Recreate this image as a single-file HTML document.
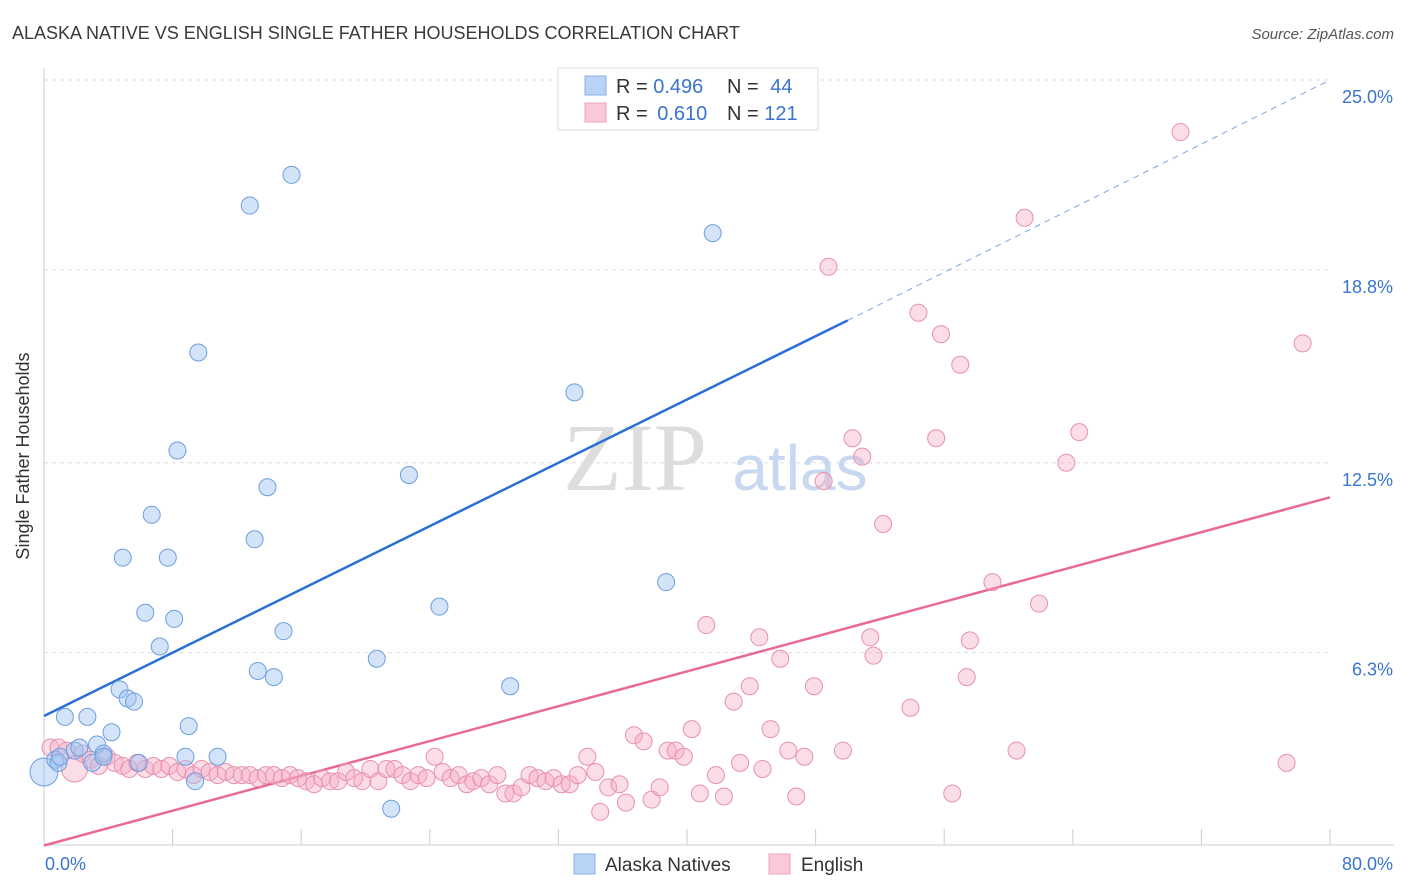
<!DOCTYPE html>
<html><head><meta charset="utf-8"><style>
body{margin:0;background:#fff;font-family:"Liberation Sans",sans-serif;}
svg{display:block}
</style></head><body>
<svg id="chart" width="1406" height="892">
<text x="12" y="39" font-size="18" fill="#3a3a3a">ALASKA NATIVE VS ENGLISH SINGLE FATHER HOUSEHOLDS CORRELATION CHART</text>
<text x="1394" y="39" font-size="15" fill="#555" font-style="italic" text-anchor="end">Source: ZipAtlas.com</text>
<text x="29" y="456" font-size="18" fill="#333" text-anchor="middle" transform="rotate(-90 29 456)">Single Father Households</text>
<g id="grid"></g>
<text x="635" y="490" font-size="96" fill="#ddd" font-family="Liberation Serif,serif" text-anchor="middle">ZIP</text>
<text x="800" y="490" font-size="64" fill="#c8d8f0" text-anchor="middle">atlas</text>
<g id="lines"></g>
<g id="points"></g>
<g>
<rect x="558" y="68" width="260" height="62" fill="#fff" stroke="#ddd"/>
<rect x="585" y="76" width="21" height="19" fill="#b8d3f5" stroke="#88aee6"/>
<rect x="585" y="103" width="21" height="19" fill="#f9c9d7" stroke="#eea4bc"/>
<text x="616" y="93" font-size="20" fill="#333">R = <tspan fill="#3a74d0">0.496</tspan></text>
<text x="727" y="93" font-size="20" fill="#333">N = <tspan fill="#3a74d0" dx="6">44</tspan></text>
<text x="616" y="120" font-size="20" fill="#333">R = <tspan fill="#3a74d0" dx="4">0.610</tspan></text>
<text x="727" y="120" font-size="20" fill="#333">N = <tspan fill="#3a74d0">121</tspan></text>
</g>
<g>
<rect x="574" y="854" width="21" height="20" fill="#b8d3f5" stroke="#88aee6"/>
<text x="605" y="871" font-size="19" fill="#333">Alaska Natives</text>
<rect x="769" y="854" width="21" height="20" fill="#f9c9d7" stroke="#eea4bc"/>
<text x="801" y="871" font-size="19" fill="#333">English</text>
</g>
</svg>
<script>
const yTicks=[25.0,18.8,12.5,6.3];
const yTickLabels=["25.0%","18.8%","12.5%","6.3%"];
const xTickLabels=["0.0%","80.0%"];
const blueX=[0,0.7,0.9,1.0,1.3,1.9,2.2,2.7,3.0,3.3,3.7,3.7,4.2,4.7,4.9,5.2,5.6,5.9,6.3,6.7,7.2,7.7,8.1,8.3,9.0,8.8,9.4,9.6,10.8,12.8,13.3,13.1,13.9,14.3,14.9,15.4,20.7,21.6,22.7,24.6,29.0,33.0,38.7,41.6];
const blueY=[2.4,2.8,2.7,2.9,4.2,3.1,3.2,4.2,2.7,3.3,3.0,2.9,3.7,5.1,9.4,4.8,4.7,2.7,7.6,10.8,6.5,9.4,7.4,12.9,3.9,2.9,2.1,16.1,2.9,20.9,5.7,10.0,11.7,5.5,7.0,21.9,6.1,1.2,12.1,7.8,5.2,14.8,8.6,20.0];
const pinkX=[0.4,0.9,1.4,1.9,2.4,2.9,3.4,3.9,4.4,4.9,5.3,5.8,6.3,6.8,7.3,7.8,8.3,8.8,9.3,9.8,10.3,10.8,11.3,11.8,12.3,12.8,13.3,13.8,14.3,14.8,15.3,15.8,16.3,16.8,17.3,17.8,18.3,18.8,19.3,19.8,20.3,20.8,21.3,21.8,22.3,22.8,23.3,23.8,24.3,24.8,25.3,25.8,26.3,26.7,27.2,27.7,28.2,28.7,29.2,29.7,30.2,30.7,31.2,31.7,32.2,32.7,33.2,33.8,34.3,34.6,35.1,35.8,36.2,36.7,37.3,37.8,38.3,38.8,39.3,39.8,40.3,40.8,41.2,41.8,42.3,42.9,43.3,43.9,44.5,44.7,45.2,45.8,46.3,46.8,47.3,47.9,48.5,48.8,49.7,50.3,50.9,51.4,51.6,52.2,53.9,54.4,55.5,55.8,56.5,57.0,57.4,57.6,59.0,60.5,61.0,61.9,63.6,64.4,70.7,77.3,78.3];
const pinkY=[3.2,3.2,3.1,2.5,3.0,2.8,2.6,2.9,2.7,2.6,2.5,2.7,2.5,2.6,2.5,2.6,2.4,2.5,2.3,2.5,2.4,2.3,2.4,2.3,2.3,2.3,2.2,2.3,2.3,2.2,2.3,2.2,2.1,2.0,2.2,2.1,2.1,2.4,2.2,2.1,2.5,2.1,2.5,2.5,2.3,2.1,2.3,2.2,2.9,2.4,2.2,2.3,2.0,2.1,2.2,2.0,2.3,1.7,1.7,1.9,2.3,2.2,2.1,2.2,2.0,2.0,2.3,2.9,2.4,1.1,1.9,2.0,1.4,3.6,3.4,1.5,1.9,3.1,3.1,2.9,3.8,1.7,7.2,2.3,1.6,4.7,2.7,5.2,6.8,2.5,3.8,6.1,3.1,1.6,2.9,5.2,11.9,18.9,3.1,13.3,12.7,6.8,6.2,10.5,4.5,17.4,13.3,16.7,1.7,15.7,5.5,6.7,8.6,3.1,20.5,7.9,12.5,13.5,23.3,2.7,16.4];
const blueLine=[4.23,17.15,25.0]; // y at x=0, x=50, dashed end x=80
const pinkLine=[0,11.37];
const X0=44,X1=1330,Y0=845.5,Y25=80;
const sx=v=>X0+(X1-X0)*v/80;
const sy=v=>Y0-(Y0-Y25)*v/25;
const NS="http://www.w3.org/2000/svg";
function mk(tag,attrs,parent){const e=document.createElementNS(NS,tag);for(const k in attrs)e.setAttribute(k,attrs[k]);parent.appendChild(e);return e;}
const grid=document.getElementById('grid');
yTicks.forEach((t,i)=>{
 const g=mk('line',{x1:X0,x2:X1,y1:sy(t),y2:sy(t),stroke:'#ddd','stroke-dasharray':'4,4'},grid);
 
 
 const l=mk('text',{x:1393,y:sy(t)+23,'font-size':18,fill:'#3a74d0','text-anchor':'end'},grid);
 l.textContent=yTickLabels[i];
 
 
});
const ax=mk('line',{x1:X0,x2:X0,y1:68,y2:845,stroke:'#ccc'},grid);


const bx=mk('line',{x1:X0,x2:X1+64,y1:845,y2:845,stroke:'#ccc'},grid);


for(let i=0;i<=10;i++){
 const t=mk('line',{x1:sx(i*8),x2:sx(i*8),y1:829,y2:845,stroke:'#ccc'},grid);
 
 
}
const xl0=mk('text',{x:45,y:870,'font-size':18,fill:'#3a74d0'},grid);xl0.textContent=xTickLabels[0];


const xl1=mk('text',{x:1393,y:870,'font-size':18,fill:'#3a74d0','text-anchor':'end'},grid);xl1.textContent=xTickLabels[1];


const pts=document.getElementById('points');
pinkX.forEach((x,i)=>{
 const c=mk('circle',{cx:sx(x),cy:sy(pinkY[i]),r:(i==3?13:8.5),fill:'rgba(245,170,195,0.4)',stroke:'#e890ad','stroke-width':1},pts);
 
 
});
blueX.forEach((x,i)=>{
 const c=mk('circle',{cx:sx(x),cy:sy(blueY[i]),r:(i==0?14:8.5),fill:'rgba(160,195,240,0.45)',stroke:'#6c9ee0','stroke-width':1},pts);
 
 
});
const lines=document.getElementById('lines');
const b1=mk('line',{x1:sx(0),y1:sy(blueLine[0]),x2:sx(50),y2:sy(blueLine[1]),stroke:'#2a6fd6','stroke-width':2.5},lines);


const b2=mk('line',{x1:sx(50),y1:sy(blueLine[1]),x2:sx(80),y2:sy(blueLine[2]),stroke:'#7aa6e6','stroke-width':1,'stroke-dasharray':'6,5'},lines);


const p1=mk('line',{x1:sx(0),y1:sy(pinkLine[0]),x2:sx(80),y2:sy(pinkLine[1]),stroke:'#e8689a','stroke-width':2.5},lines);


</script>
</body></html>
